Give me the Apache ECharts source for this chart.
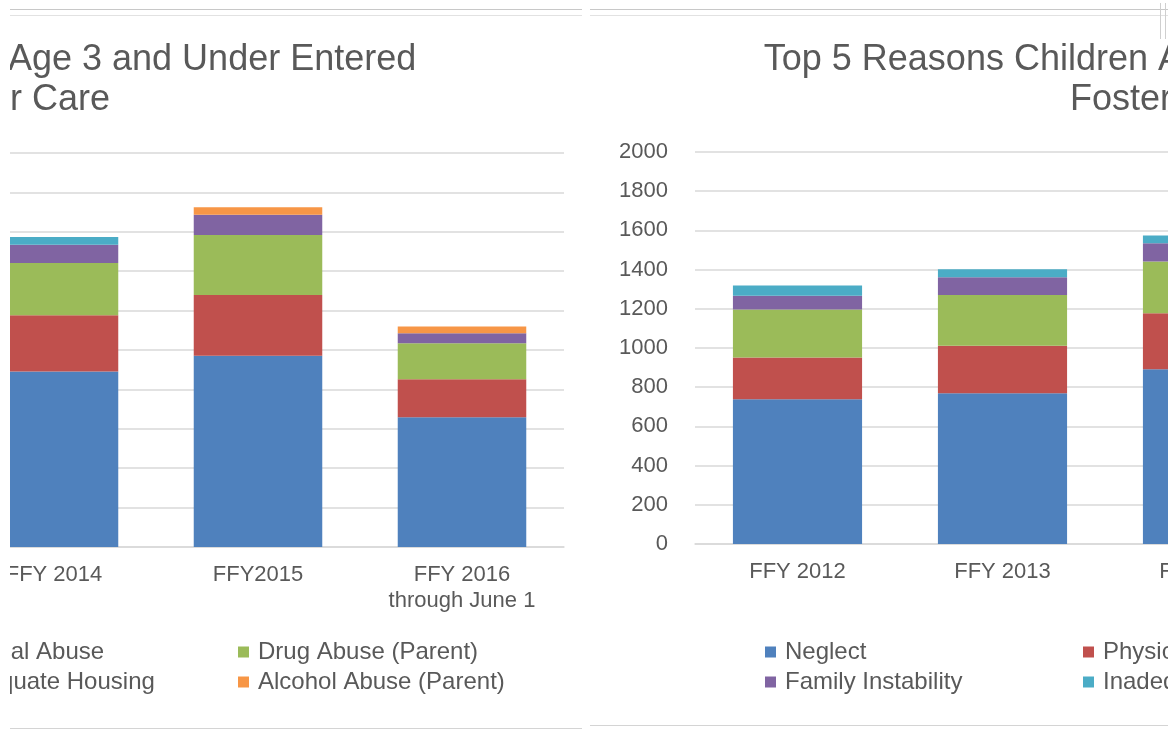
<!DOCTYPE html>
<html>
<head>
<meta charset="utf-8">
<title>Top 5 Reasons Children Age 3 and Under Entered Foster Care</title>
<script src="https://cdn.jsdelivr.net/npm/echarts@6/dist/echarts.min.js"></script>
<style>
  html, body { margin: 0; padding: 0; background: #fff; width: 1172px; height: 729px; overflow: hidden; position: relative; }
  .panel { position: absolute; overflow: hidden; background: #fff; }
  #leftPanel  { left: 10px;  top: 9px; width: 572px; height: 718px; border-top: 1px solid #c8c8c8; border-bottom: 1px solid #d4d4d4; }
  #rightPanel { left: 590px; top: 9px; width: 578px; height: 715px; border-top: 1px solid #c8c8c8; border-bottom: 1px solid #d4d4d4; }
  .chart { position: absolute; width: 1000px; height: 729px; }
  #leftChart  { left: -430px; top: -10px; }
  #rightChart { left: 0; top: -10px; }
  .rule { position: absolute; left: 0; right: 0; top: 5px; height: 0; border-top: 1px solid #e2e2e2; }
  #corner { position: absolute; left: 1160px; top: 3px; width: 4px; height: 36px; border-left: 1px solid #cfcfcf; border-right: 1px solid #cfcfcf; }
</style>
</head>
<body>
<div id="leftPanel" class="panel"><div id="leftChart" class="chart"></div><div class="rule"></div></div>
<div id="rightPanel" class="panel"><div id="rightChart" class="chart"></div><div class="rule"></div></div>
<div id="corner"></div>
<script>
// Entry reasons, in stacking order (bottom to top)
const seriesNames = ['Neglect', 'Physical Abuse', 'Drug Abuse (Parent)', 'Family Instability', 'Inadequate Housing', 'Alcohol Abuse (Parent)'];
const seriesColors = ['#4f81bd', '#c0504d', '#9bbb59', '#8064a2', '#4bacc6', '#f79646'];

const titleLine1 = 'Top 5 Reasons Children Age 3 and Under Entered';
const titleLine2 = 'Foster Care';

// Value axis
const axisMin = 0;
const axisMax = 2000;
const axisStep = 200;

// FFY 2014 - FFY 2016 (through June 1)
const recentYears = ['FFY 2014', 'FFY2015', 'FFY 2016\nthrough June 1'];
const recentNeglect = [891, 971, 658];
const recentPhysical = [286, 308, 193];
const recentDrug = [264, 305, 183];
const recentFamily = [93, 102, 51];
const recentHousing = [40, null, null];
const recentAlcohol = [null, 39, 34];

// FFY 2012 - FFY 2014
const earlierYears = ['FFY 2012', 'FFY 2013', 'FFY 2014'];
const earlierNeglect = [738, 769, 891];
const earlierPhysical = [214, 243, 286];
const earlierDrug = [245, 259, 264];
const earlierFamily = [69, 90, 93];
const earlierHousing = [53, 41, 40];

const FONT = '"Liberation Sans", Arial, "Helvetica Neue", sans-serif';
const TEXT = '#595959';
const GRID_LINE = '#d9d9d9';

function buildOption(cfg) {
  const series = cfg.values.map((vals, i) => ({
    name: seriesNames[i],
    type: 'bar',
    stack: 'total',
    data: vals,
    barCategoryGap: '37%',
    itemStyle: { color: seriesColors[i] },
    emphasis: { disabled: true }
  }));

  const legend = cfg.legendCols.map((names, k) => ({
    orient: 'vertical',
    left: cfg.legendX[k],
    top: 640,
    padding: 0,
    itemGap: 6,
    itemWidth: 11,
    itemHeight: 11,
    icon: 'rect',
    selectedMode: false,
    data: names,
    textStyle: { color: TEXT, fontSize: 24, lineHeight: 24, fontFamily: FONT, padding: [0, 0, 0, 4] }
  }));

  return {
    animation: false,
    backgroundColor: '#fff',
    textStyle: { fontFamily: FONT },
    title: {
      text: titleLine1 + '\n' + titleLine2,
      left: cfg.titleX,
      top: 40,
      padding: 0,
      textAlign: 'center',
      textStyle: { color: TEXT, fontSize: 36, lineHeight: 40, fontWeight: 'normal', fontFamily: FONT }
    },
    legend: legend,
    grid: { left: cfg.gridLeft, width: cfg.gridWidth, top: cfg.gridTop, height: cfg.gridHeight, containLabel: false },
    xAxis: {
      type: 'category',
      data: cfg.categories,
      axisTick: { show: false },
      axisLine: { show: true, lineStyle: { color: GRID_LINE, width: 1.5 } },
      axisLabel: { color: TEXT, fontSize: 22, lineHeight: 26, margin: 15, interval: 0, fontFamily: FONT }
    },
    yAxis: {
      type: 'value',
      min: axisMin,
      max: axisMax,
      interval: axisStep,
      axisLine: { show: false },
      axisTick: { show: false },
      axisLabel: { color: TEXT, fontSize: 22, margin: 27, fontFamily: FONT, formatter: v => String(v) },
      splitLine: { lineStyle: { color: GRID_LINE, width: 1.5 } }
    },
    series: series
  };
}

const leftChart = echarts.init(document.getElementById('leftChart'), null, { renderer: 'canvas' });
leftChart.setOption(buildOption({
  categories: recentYears,
  values: [recentNeglect, recentPhysical, recentDrug, recentFamily, recentHousing, recentAlcohol],
  titleX: 435,
  gridLeft: 372, gridWidth: 612, gridTop: 153, gridHeight: 394,
  legendX: [22, 340, 658],
  legendCols: [
    ['Neglect', 'Family Instability'],
    ['Physical Abuse', 'Inadequate Housing'],
    ['Drug Abuse (Parent)', 'Alcohol Abuse (Parent)']
  ]
}));

const rightChart = echarts.init(document.getElementById('rightChart'), null, { renderer: 'canvas' });
rightChart.setOption(buildOption({
  categories: earlierYears,
  values: [earlierNeglect, earlierPhysical, earlierDrug, earlierFamily, earlierHousing],
  titleX: 575,
  gridLeft: 105, gridWidth: 615, gridTop: 152, gridHeight: 392,
  legendX: [175, 493, 811],
  legendCols: [
    ['Neglect', 'Family Instability'],
    ['Physical Abuse', 'Inadequate Housing'],
    ['Drug Abuse (Parent)']
  ]
}));
</script>
</body>
</html>
